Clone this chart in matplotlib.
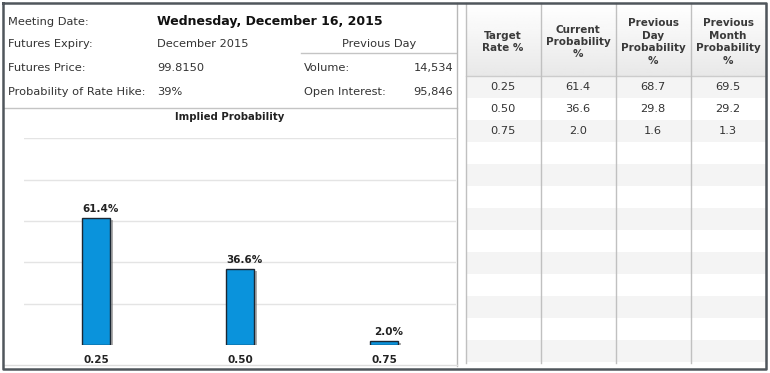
import matplotlib
matplotlib.use('Agg')
import matplotlib.pyplot as plt
import matplotlib.patheffects as pe
import numpy as np

# ---- data ----
info_labels = ['Meeting Date:', 'Futures Expiry:', 'Futures Price:', 'Probability of Rate Hike:']
info_values = ['Wednesday, December 16, 2015', 'December 2015', '99.8150', '39%']
prev_labels = ['Volume:', 'Open Interest:']
prev_values = ['14,534', '95,846']

target_rates = ['0.25', '0.50', '0.75']
current_prob = [61.4, 36.6, 2.0]
prev_day_prob = [68.7, 29.8, 1.6]
prev_month_prob = [69.5, 29.2, 1.3]
headers = ['Target\nRate %', 'Current\nProbability\n%', 'Previous\nDay\nProbability\n%',
           'Previous\nMonth\nProbability\n%']

W, H = 770, 373
txt = '#333333'
fs = 7.5      # table / chart text
fs_info = 8.2  # info block text

fig = plt.figure(figsize=(W / 100, H / 100), dpi=100)
fig.patch.set_facecolor('white')

# background axes in pixel coordinates
bg = fig.add_axes([0, 0, 1, 1])
bg.set_xlim(0, W)
bg.set_ylim(H, 0)
bg.axis('off')

# info block
ys = [22, 44, 68, 92]
for y, lab, val in zip(ys, info_labels, info_values):
    bg.text(8, y, lab, fontsize=fs_info, color=txt, va='center')
    if val.startswith('Wednesday'):
        bg.text(157, y - 1, val, fontsize=9, fontweight='bold', color='#111111', va='center')
    else:
        bg.text(157, y, val, fontsize=fs_info, color=txt, va='center')

bg.text(379, 44, 'Previous Day', fontsize=fs_info, color=txt, va='center', ha='center')
bg.plot([301, 456], [53, 53], color='#c4c4c4', lw=1)
for y, lab, val in zip(ys[2:], prev_labels, prev_values):
    bg.text(304, y, lab, fontsize=fs_info, color=txt, va='center')
    bg.text(453, y, val, fontsize=fs_info, color=txt, va='center', ha='right')

# chart box borders
bg.plot([4, 456.5], [108, 108], color='#c4c4c4', lw=1)
bg.plot([456.5, 456.5], [3, 366], color='#b8b8b8', lw=1)
bg.plot([4, 456.5], [365, 365], color='#dddddd', lw=1)
bg.text(230, 117, 'Implied Probability', fontsize=7.3, fontweight='bold', color='#222222',
        ha='center', va='center')

# table
col_x = [465.5, 540.7, 615.7, 690.7, 765.5]
hdr_top, hdr_bot = 3, 76
row_h = 22
grad = np.linspace(1.0, 0.91, 50).reshape(-1, 1)
bg.imshow(grad, cmap='gray', vmin=0, vmax=1, extent=[col_x[0], col_x[-1], hdr_bot, hdr_top],
          aspect='auto', zorder=1)
bg.plot([col_x[0], col_x[-1]], [hdr_bot, hdr_bot], color='#cccccc', lw=1, zorder=3)

n_rows = 13
for i in range(n_rows):
    y0 = hdr_bot + i * row_h
    if i % 2 == 0:
        bg.fill_between([col_x[0], col_x[-1]], y0, min(y0 + row_h, 363),
                        color='#f4f4f4', lw=0, zorder=1)

for x in col_x:
    bg.plot([x, x], [hdr_top, 363], color='#c0c0c0', lw=1, zorder=3)

centers = [(a + b) / 2 for a, b in zip(col_x[:-1], col_x[1:])]
for cx, h in zip(centers, headers):
    bg.text(cx, 42, h, fontsize=fs, fontweight='bold', color='#3a3a3a', ha='center',
            va='center', linespacing=1.3, zorder=4)

for i, (r, c, d, m) in enumerate(zip(target_rates, current_prob, prev_day_prob, prev_month_prob)):
    y = hdr_bot + i * row_h + row_h / 2
    for cx, v in zip(centers, [r, f'{c:.1f}', f'{d:.1f}', f'{m:.1f}']):
        bg.text(cx, y, v, fontsize=fs_info, color=txt, ha='center', va='center', zorder=4)

# outer frame
bg.plot([3, 766, 766, 3, 3], [3, 3, 368.5, 368.5, 3], color='#50565c', lw=1.8, zorder=5)

# bar chart axes
left, right, top, bottom = 24, 456, 138.3, 345
ax = fig.add_axes([left / W, (H - bottom) / H, (right - left) / W, (bottom - top) / H])
ax.set_facecolor('none')
xs = np.arange(len(target_rates))
bars = ax.bar(xs, current_prob, width=0.2, color='#0a93dc', edgecolor='#1b2733', lw=1,
              zorder=3)
for b in bars:
    b.set_path_effects([pe.SimplePatchShadow(offset=(1.6, -1.2), shadow_rgbFace='#777777',
                                             alpha=0.6), pe.Normal()])
for x, v in zip(xs, current_prob):
    ax.annotate(f'{v:.1f}%', (x, v), xytext=(3, 3), textcoords='offset points', ha='center',
                va='bottom', fontsize=fs, fontweight='bold', color='#222222')
ax.set_xlim(-0.5, 2.5)
ax.set_ylim(0, 100)
ax.set_yticks([20, 40, 60, 80, 100])
ax.yaxis.grid(True, color='#e4e4e4', lw=1)
ax.set_axisbelow(True)
ax.set_yticklabels([])
ax.tick_params(left=False, bottom=False, pad=4)
ax.set_xticks(xs)
ax.set_xticklabels(target_rates, fontsize=fs, fontweight='bold', color='#222222')
for s in ax.spines.values():
    s.set_visible(False)

fig.savefig('out.png', dpi=100)
